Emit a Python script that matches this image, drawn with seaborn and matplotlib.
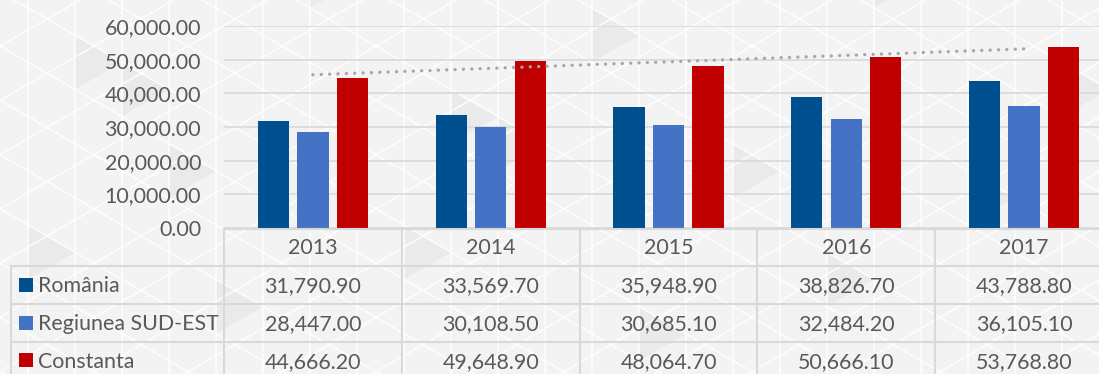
import numpy as np
import pandas as pd
import matplotlib
matplotlib.use("Agg")
import matplotlib.pyplot as plt
import matplotlib.transforms as mtransforms
from matplotlib.lines import Line2D
from matplotlib.patches import Rectangle, Polygon
import seaborn as sns

# ---- data ----
years = ["2013", "2014", "2015", "2016", "2017"]
series_names = ["România", "Regiunea SUD-EST", "Constanta"]
romania = [31790.90, 33569.70, 35948.90, 38826.70, 43788.80]
sud_est = [28447.00, 30108.50, 30685.10, 32484.20, 36105.10]
constanta = [44666.20, 49648.90, 48064.70, 50666.10, 53768.80]
series_colors = ["#00508F", "#4472C4", "#C00000"]
yticks = [0, 10000, 20000, 30000, 40000, 50000, 60000]

# ---- style ----
W, H = 1099, 374
sns.set_style("white")
plt.rcParams["font.family"] = ["Lato", "DejaVu Sans"]
TXT = "#595959"
LINE = "#D9D9D9"
FS = 15.4
BG = "#F3F3F3"

fig = plt.figure(figsize=(W / 100, H / 100), dpi=100, facecolor=BG)


def fx(p):
    return p / W


def fy(p):
    return 1 - p / H


# ---- faint triangular texture behind the chart ----
h = 47.0
s = h * 2 / np.sqrt(3)
t = np.tan(np.radians(30))
x0, y0 = 28.0, 8.0

shaded = [(1, 0), (3, 2), (6, -1), (9, 1), (12, 0), (15, 2), (18, -1), (20, 3),
          (0, 4), (4, 5), (8, 4), (13, 5), (17, 4), (22, 1), (10, 2), (2, 1)]
for k, m in shaded:
    xk = x0 + k * h
    yv = y0 + m * s + (k % 2) * s / 2
    tri = [(xk, yv), (xk, yv + s), (xk + h, yv + s / 2)]
    fig.add_artist(Polygon([(fx(a), fy(b)) for a, b in tri], closed=True,
                           facecolor="#EAEAEA", edgecolor="none", zorder=-10,
                           transform=fig.transFigure))

for k in range(-1, 26):
    xk = x0 + k * h
    fig.add_artist(Line2D([fx(xk), fx(xk)], [0, 1], color="white", lw=1.1,
                          alpha=0.9, zorder=-9, transform=fig.transFigure))
xs_bg = np.array([-50.0, W + 50.0])
for m in range(-30, 40):
    c = y0 - t * x0 + m * s
    for sign in (1, -1):
        ys_bg = c + sign * t * xs_bg
        fig.add_artist(Line2D(fx(xs_bg), fy(ys_bg), color="white", lw=1.1,
                              alpha=0.9, zorder=-9, transform=fig.transFigure))

# ---- bars ----
ax = fig.add_axes([fx(224), fy(228), fx(1113) - fx(224), fy(26) - fy(228)])
ax.set_facecolor("none")

df = pd.DataFrame({
    "year": years * 3,
    "series": [n for n in series_names for _ in years],
    "value": romania + sud_est + constanta,
})
sns.barplot(data=df, x="year", y="value", hue="series", hue_order=series_names,
            palette=series_colors, saturation=1, width=0.667, gap=0.21,
            errorbar=None, legend=False, linewidth=0, ax=ax, zorder=3)

# linear trend of Constanta
xs = np.arange(len(years))
coef = np.polyfit(xs, constanta, 1)
ax.plot(xs, np.polyval(coef, xs), color="#A6A6A6", lw=2.4,
        linestyle=(0, (0.01, 2.5)), dash_capstyle="round", zorder=5)

ax.set_xlim(-0.5, len(years) - 0.5)
ax.set_ylim(0, 60000)
ax.set_yticks(yticks)
ax.set_yticklabels([f"{v:,.2f}" for v in yticks])
ax.set_xticks([])
ax.set_xlabel("")
ax.set_ylabel("")
ax.tick_params(axis="y", length=0, pad=16.5, labelsize=FS, labelcolor=TXT)
ax.grid(axis="y", color=LINE, lw=1.2)
ax.set_axisbelow(True)
for sp in ax.spines.values():
    sp.set_visible(False)

# ---- data table ----
trans = mtransforms.blended_transform_factory(ax.transData, fig.transFigure)
LW = 1.5

for b in np.arange(-0.5, len(years), 1.0):
    fig.add_artist(Line2D([b, b], [fy(229), fy(392)], color=LINE, lw=LW,
                          transform=trans, zorder=4))
fig.add_artist(Line2D([fx(11), fx(11)], [fy(266), fy(392)], color=LINE, lw=LW,
                      transform=fig.transFigure, zorder=4))
fig.add_artist(Line2D([fx(224), fx(1120)], [fy(229), fy(229)], color=LINE,
                      lw=LW, transform=fig.transFigure, zorder=4))
for yl in (266, 304, 342):
    fig.add_artist(Line2D([fx(11), fx(1120)], [fy(yl), fy(yl)], color=LINE,
                          lw=LW, transform=fig.transFigure, zorder=4))

for i, yr in enumerate(years):
    fig.text(i, fy(254), yr, transform=trans, ha="center", va="baseline",
             fontsize=FS, color=TXT)

row_baselines = [292.5, 330.5, 368]
for name, color, vals, rb in zip(series_names, series_colors,
                                 [romania, sud_est, constanta], row_baselines):
    fig.add_artist(Rectangle((fx(19), fy(rb - 1)), 14 / W, 14 / H,
                             facecolor=color, edgecolor="none",
                             transform=fig.transFigure))
    fig.text(fx(38), fy(rb), name, ha="left", va="baseline", fontsize=FS,
             color=TXT)
    for i, v in enumerate(vals):
        fig.text(i, fy(rb), f"{v:,.2f}", transform=trans, ha="center",
                 va="baseline", fontsize=FS, color=TXT)

fig.savefig("out.png", dpi=100, facecolor=fig.get_facecolor())
